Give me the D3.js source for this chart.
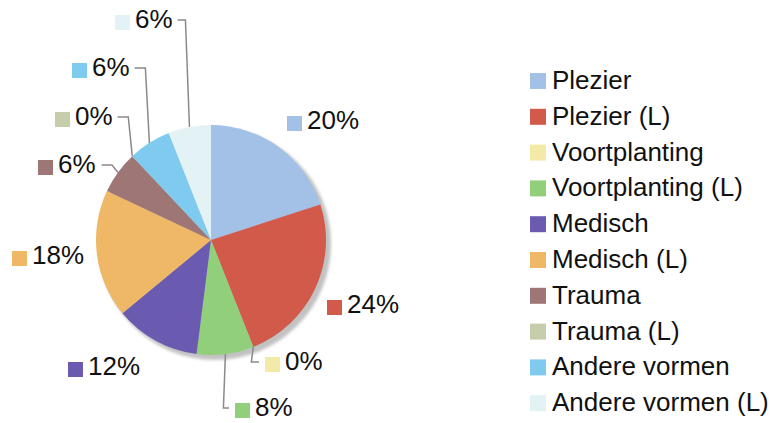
<!DOCTYPE html>
<html>
<head>
<meta charset="utf-8">
<script src="https://cdn.jsdelivr.net/npm/d3@7"></script>
<style>
  body { margin: 0; background: #fff; }
  text { font-family: "Liberation Sans", Arial, Helvetica, sans-serif; fill: #111; }
</style>
</head>
<body>
<script>
// Categories and their share (percent)
var categories = ["Plezier", "Plezier (L)", "Voortplanting", "Voortplanting (L)", "Medisch",
                  "Medisch (L)", "Trauma", "Trauma (L)", "Andere vormen", "Andere vormen (L)"];
var values = [20, 24, 0, 8, 12, 18, 6, 0, 6, 6];
var colors = ["#a3c0e6", "#d25a4b", "#f3eaa8", "#92cf7a", "#6b5bb0",
              "#efb866", "#9e7676", "#c6cdab", "#7fcbef", "#e3f2f4"];

// Where each slice's label sits (square top-left) and whether it needs a leader line
var labelLayout = [
  { x: 287, y: 116, leader: null },
  { x: 327, y: 300, leader: null },
  { x: 265, y: 357, leader: "down-right" },
  { x: 235, y: 403, leader: "down-right" },
  { x: 68,  y: 362, leader: null },
  { x: 12,  y: 251, leader: null },
  { x: 38,  y: 160, leader: "left" },
  { x: 55,  y: 112, leader: "up-left" },
  { x: 72,  y: 63,  leader: "up-left" },
  { x: 115, y: 15,  leader: "up-left" }
];

var width = 778, height = 423;
var cx = 211, cy = 240, radius = 115;
var fontSize = "26px";

var svg = d3.select("body").append("svg")
    .attr("width", width)
    .attr("height", height);

var defs = svg.append("defs");
defs.append("filter").attr("id", "blur")
    .attr("x", "-10%").attr("y", "-10%").attr("width", "120%").attr("height", "120%")
  .append("feGaussianBlur").attr("stdDeviation", 1.6);

var data = categories.map(function(c, i) {
    return { name: c, value: values[i], color: colors[i], layout: labelLayout[i] };
});

var pie = d3.pie().sort(null).value(function(d) { return d.value; });
var arc = d3.arc().innerRadius(0).outerRadius(radius);
var arcs = pie(data);

var g = svg.append("g").attr("transform", "translate(" + cx + "," + cy + ")");

// drop shadow
g.append("circle")
    .attr("cx", 4).attr("cy", 4).attr("r", radius + 1)
    .attr("fill", "#c2c2c2")
    .attr("filter", "url(#blur)");

g.selectAll("path.slice")
    .data(arcs)
  .enter().append("path")
    .attr("class", "slice")
    .attr("d", arc)
    .attr("fill", function(d) { return d.data.color; });

function textWidth(s) {
    var t = svg.append("text").style("font-size", fontSize).text(s);
    var w = t.node().getComputedTextLength();
    t.remove();
    return w;
}

// Leader lines
function edgePoint(d) {
    var a = (d.startAngle + d.endAngle) / 2;
    return [cx + radius * Math.sin(a), cy - radius * Math.cos(a)];
}

arcs.forEach(function(d) {
    var L = d.data.layout;
    if (!L.leader) return;
    var p = edgePoint(d), pts;
    var ly = L.y + 5;
    if (L.leader === "down-right") {
        pts = [p, [p[0] - 2, L.y + 5], [L.x - 6, L.y + 5]];
    } else if (L.leader === "up-left") {
        var textEnd = L.x + 20 + textWidth(d.data.value + "%");
        pts = [p, [p[0] - 4, ly], [textEnd + 5, ly]];
    } else {
        var te = L.x + 20 + textWidth(d.data.value + "%");
        pts = [p, [p[0] - 6, ly], [te + 6, ly]];
    }
    svg.append("path")
        .attr("d", d3.line()(pts))
        .attr("fill", "none")
        .attr("stroke", "#8a8a8a")
        .attr("stroke-width", 1.5);
});

// Percentage labels
var labels = svg.selectAll("g.lbl")
    .data(arcs)
  .enter().append("g")
    .attr("class", "lbl")
    .attr("transform", function(d) { return "translate(" + d.data.layout.x + "," + d.data.layout.y + ")"; });

labels.append("rect")
    .attr("width", 15).attr("height", 15)
    .attr("fill", function(d) { return d.data.color; });

labels.append("text")
    .attr("x", 20).attr("y", 12.5)
    .style("font-size", fontSize)
    .text(function(d) { return d.data.value + "%"; });

// Legend
var legend = svg.append("g").attr("transform", "translate(530,73)");
var rowH = 35.8;

var rows = legend.selectAll("g.row")
    .data(data)
  .enter().append("g")
    .attr("class", "row")
    .attr("transform", function(d, i) { return "translate(0," + (i * rowH) + ")"; });

rows.append("rect")
    .attr("width", 16).attr("height", 16)
    .attr("fill", function(d) { return d.color; });

rows.append("text")
    .attr("x", 22).attr("y", 16)
    .style("font-size", fontSize)
    .text(function(d) { return d.name; });
</script>
</body>
</html>
